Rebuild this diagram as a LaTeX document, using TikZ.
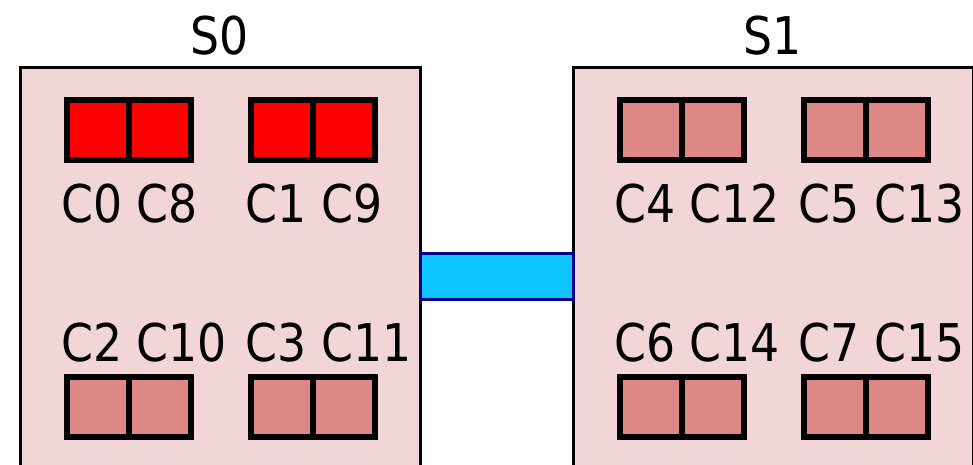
\documentclass[tikz,border=0pt]{standalone}
\usepackage{fontspec}
\setmainfont{DejaVu Sans}[FakeStretch=0.88]
\usepackage{tikz}
\usetikzlibrary{positioning}
\definecolor{socketpink}{RGB}{242,214,215}
\definecolor{corelight}{RGB}{222,136,134}
\definecolor{corebusy}{RGB}{255,0,0}
\definecolor{linkblue}{RGB}{13,198,255}
\definecolor{linkedge}{RGB}{0,0,140}

\tikzset{
  socket/.style={draw, line width=3pt, fill=socketpink, anchor=north west,
    minimum width=400pt, minimum height=480pt, inner sep=0pt, outer sep=0pt},
  core/.style={draw, line width=6pt, minimum width=62pt, minimum height=60pt,
    inner sep=0pt, outer sep=0pt},
  txt/.style={font=\fontsize{52}{60}\selectfont, anchor=base, inner sep=0pt},
  corelab/.style={txt, anchor=base west},
}

\begin{document}
\begin{tikzpicture}[x=1pt,y=-1pt]
      \useasboundingbox (0,0) rectangle (973,465);
      \clip (0,0) rectangle (973,465);
      % sockets
      \node [socket] (s0) at (20,68) {};
      \node [socket] (s1) at (573,68) {};
      \node [txt] (s0lab) at (220,55) {S0};
      \node [txt] (s1lab) at (773,55) {S1};
      % link between sockets
      \draw [line width=3pt, draw=linkedge, fill=linkblue]
        (s0.east |- 0,253) rectangle (s1.west |- 0,299);
      % socket 0 cores
      \node [core, fill=corebusy] (c0) at (97.5,130) {};
      \node [core, fill=corebusy, right=0pt of c0] (c8) {};
      \node [core, fill=corebusy] (c1) at (282,130) {};
      \node [core, fill=corebusy, right=0pt of c1] (c9) {};
      \node [core, fill=corelight] (c2) at (97.5,406.5) {};
      \node [core, fill=corelight, right=0pt of c2] (c10) {};
      \node [core, fill=corelight] (c3) at (282,406.5) {};
      \node [core, fill=corelight, right=0pt of c3] (c11) {};
      \node [corelab] at ([xshift=-5.5pt]c0.west |- 0,222) {C0 C8};
      \node [corelab] at ([xshift=-5.5pt]c1.west |- 0,222) {C1 C9};
      \node [corelab] at ([xshift=-5.5pt]c2.west |- 0,361) {C2 C10};
      \node [corelab] at ([xshift=-5.5pt]c3.west |- 0,361) {C3 C11};
      % socket 1 cores
      \node [core, fill=corelight] (c4) at (650.5,130) {};
      \node [core, fill=corelight, right=0pt of c4] (c12) {};
      \node [core, fill=corelight] (c5) at (835,130) {};
      \node [core, fill=corelight, right=0pt of c5] (c13) {};
      \node [core, fill=corelight] (c6) at (650.5,406.5) {};
      \node [core, fill=corelight, right=0pt of c6] (c14) {};
      \node [core, fill=corelight] (c7) at (835,406.5) {};
      \node [core, fill=corelight, right=0pt of c7] (c15) {};
      \node [corelab] at ([xshift=-5.5pt]c4.west |- 0,222) {C4 C12};
      \node [corelab] at ([xshift=-5.5pt]c5.west |- 0,222) {C5 C13};
      \node [corelab] at ([xshift=-5.5pt]c6.west |- 0,361) {C6 C14};
      \node [corelab] at ([xshift=-5.5pt]c7.west |- 0,361) {C7 C15};
\end{tikzpicture}
\end{document}
